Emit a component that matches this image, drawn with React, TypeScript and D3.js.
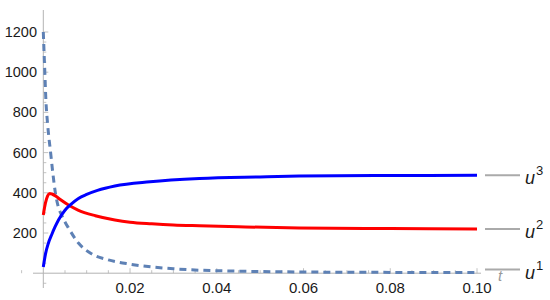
import React, { useEffect, useRef } from 'react';
import * as d3 from 'd3';

// u^1 (dashed), u^2 (red), u^3 (blue) as [t, value]
const u1Data: [number, number][] = [
  [0, 1200], [0.0003, 1030], [0.0006, 860], [0.001, 740], [0.0017, 597], [0.0022, 498],
  [0.0028, 398], [0.0034, 335], [0.0042, 290], [0.005, 255], [0.0058, 225], [0.0081, 150],
  [0.011, 98], [0.015, 66], [0.02, 45], [0.025, 31], [0.03, 22], [0.036, 15], [0.045, 10],
  [0.06, 6], [0.08, 4], [0.1, 3],
];
const u2Data: [number, number][] = [
  [0, 290], [0.0005, 350], [0.001, 385], [0.0015, 397], [0.002, 394], [0.003, 381],
  [0.004, 365], [0.0058, 339], [0.008, 314], [0.012, 286], [0.0165, 265], [0.02, 254],
  [0.025, 246], [0.03, 240], [0.036, 236], [0.045, 231], [0.059, 225], [0.08, 222], [0.1, 220],
];
const u3Data: [number, number][] = [
  [0, 31], [0.0005, 95], [0.00115, 148], [0.002, 195], [0.0027, 230], [0.0035, 265],
  [0.005, 313], [0.0065, 345], [0.0081, 372], [0.01, 392], [0.0125, 412], [0.0165, 434],
  [0.0246, 455], [0.036, 471], [0.05, 479], [0.059, 483], [0.08, 486], [0.1, 487],
];
const xTicks = [0.02, 0.04, 0.06, 0.08, 0.1];
const yTicks = [200, 400, 600, 800, 1000, 1200];
const seriesLabels = ['1', '2', '3'];

const App = () => {
  const ref = useRef<SVGSVGElement>(null);

  useEffect(() => {
    const svg = d3.select(ref.current);
    svg.selectAll('*').remove();

    const x = d3.scaleLinear().domain([0, 0.1]).range([43.3, 477]);
    const y = d3.scaleLinear().domain([0, 1200]).range([273.2, 32]);
    const axisColor = '#b3b3b3';
    const font = 'Liberation Sans, Arial, sans-serif';

    // axis lines
    svg.append('line').attr('x1', 33).attr('x2', 481).attr('y1', y(0)).attr('y2', y(0))
      .attr('stroke', axisColor).attr('stroke-width', 1);
    svg.append('line').attr('x1', x(0)).attr('x2', x(0)).attr('y1', 10).attr('y2', 288)
      .attr('stroke', axisColor).attr('stroke-width', 1);

    // x ticks (major + minor)
    d3.range(-0.005, 0.1001, 0.005).forEach(t => {
      if (Math.abs(t) < 1e-9) return;
      const major = xTicks.some(v => Math.abs(v - t) < 1e-9);
      svg.append('line').attr('x1', x(t)).attr('x2', x(t))
        .attr('y1', y(0)).attr('y2', y(0) - (major ? 5 : 3))
        .attr('stroke', axisColor).attr('stroke-width', 0.8);
    });
    // y ticks (major + minor)
    d3.range(-50, 1201, 50).forEach(v => {
      if (v === 0) return;
      const major = yTicks.includes(v);
      svg.append('line').attr('x1', x(0)).attr('x2', x(0) + (major ? 5 : 3))
        .attr('y1', y(v)).attr('y2', y(v))
        .attr('stroke', axisColor).attr('stroke-width', 0.8);
    });

    svg.append('g').selectAll('text').data(xTicks).enter().append('text')
      .attr('x', d => x(d)).attr('y', 293)
      .attr('text-anchor', 'middle').attr('font-family', font).attr('font-size', 15)
      .attr('fill', '#1a1a1a').text(d => d.toFixed(2));
    svg.append('g').selectAll('text').data(yTicks).enter().append('text')
      .attr('x', 37).attr('y', d => y(d) + 5)
      .attr('text-anchor', 'end').attr('font-family', font).attr('font-size', 14.5)
      .attr('fill', '#1a1a1a').text(d => d);

    const line = d3.line<[number, number]>()
      .x(d => x(d[0])).y(d => y(d[1])).curve(d3.curveMonotoneX);

    svg.append('path').datum(u1Data).attr('d', line).attr('fill', 'none')
      .attr('stroke', '#5e81b5').attr('stroke-width', 3).attr('stroke-dasharray', '7,5');
    svg.append('path').datum(u2Data).attr('d', line).attr('fill', 'none')
      .attr('stroke', '#ff0000').attr('stroke-width', 3);
    svg.append('path').datum(u3Data).attr('d', line).attr('fill', 'none')
      .attr('stroke', '#0000ff').attr('stroke-width', 3);

    // axis label t
    svg.append('text').attr('x', 500).attr('y', 281).attr('text-anchor', 'middle')
      .attr('font-family', font).attr('font-style', 'italic').attr('font-size', 15)
      .attr('fill', '#999').text('t');

    // leader lines + labels
    const ends = [u1Data, u2Data, u3Data].map(s => s[s.length - 1][1]);
    ends.forEach((v, i) => {
      const yy = i === 0 ? y(v) - 3 : y(v);
      svg.append('line').attr('x1', 485).attr('x2', 520).attr('y1', yy).attr('y2', yy)
        .attr('stroke', '#aaa').attr('stroke-width', 2);
      const lab = svg.append('text').attr('x', 525).attr('y', yy + 9)
        .attr('font-family', font).attr('font-size', 18).attr('fill', '#1a1a1a');
      lab.append('tspan').attr('font-style', 'italic').text('u');
      lab.append('tspan').attr('font-size', 13).attr('dy', -9).attr('dx', 1).text(seriesLabels[i]);
    });
  }, []);

  return (
    <svg ref={ref} width={550} height={300}
      style={{ position: 'absolute', left: 0, top: 0, background: '#fff' }} />
  );
};

export default App;
